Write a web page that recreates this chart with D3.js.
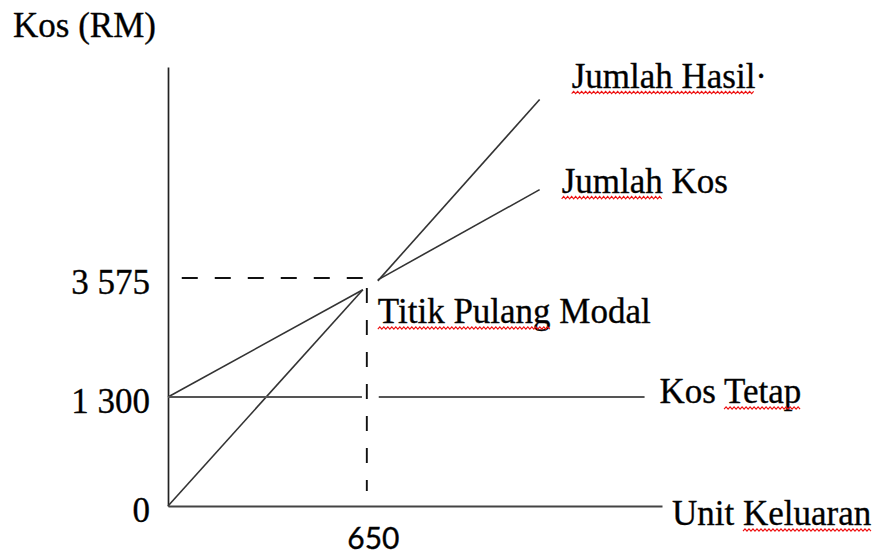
<!DOCTYPE html>
<html>
<head>
<meta charset="utf-8">
<script src="https://cdn.jsdelivr.net/npm/d3@7"></script>
<style>
  body { margin: 0; background: #fff; }
  svg text { font-family: 'Liberation Serif', 'Times New Roman', serif; font-size: 35px; fill: #000; stroke: #111; stroke-width: 0.35px; }
  svg .x-axis text { font-family: Lato, 'Noto Sans', sans-serif; font-size: 30px; }
</style>
</head>
<body>
<div id="chart"></div>
<script>
// values: units on x, RM on y
const yTicks = [0, 1300, 3575]
const xTicks = [650]
const unitMax = 1615
const costMax = 7600
const breakEven = [650, 3575]

// every line is drawn in two pieces, with a gap where the dashed guide crosses
const revenueLow = [[0, 0], [637, 3350]]
const revenueHigh = [[686, 3520], [1215, 6980]]
const costLow = [[0, 1300], [637, 3350]]
const costHigh = [[686, 3540], [1215, 5260]]
const fixedLow = [[0, 1300], [634, 1300]]
const fixedHigh = [[689, 1300], [1558, 1300]]

const guideH = [[45, 3575], [650, 3575]]
const guideV = [[650, 3385], [650, 180]]

const width = 879
const height = 558

const svg = d3.select('#chart')
  .append('svg')
  .attr('width', width)
  .attr('height', height)

const x = d3.scaleLinear()
  .domain([0, unitMax])
  .range([168, 662])

// the sketch is not to scale, so the y scale is piecewise
const y = d3.scaleLinear()
  .domain([0, 1300, 3575, costMax])
  .range([506, 397, 278, 67])

const fmt = d3.formatLocale({ decimal: '.', thousands: ' ', grouping: [3], currency: ['', ''] }).format(',')

const line = d3.line()
  .x(d => x(d[0]))
  .y(d => y(d[1]))

// y-axis
const yAxis = d3.axisLeft(y)
  .tickValues(yTicks)
  .tickSize(0)
  .tickPadding(18)
  .tickFormat(fmt)

const gy = svg.append('g')
  .attr('class', 'y-axis')
  .attr('transform', `translate(${x(0)}, 0)`)
  .call(yAxis)
  .attr('font-size', null)
  .attr('font-family', null)
gy.select('.domain').attr('stroke', '#222').attr('stroke-width', 1.7)
gy.selectAll('text').attr('dy', 15)

// x-axis
const xAxis = d3.axisBottom(x)
  .tickValues(xTicks)
  .tickSize(0)
  .tickPadding(22)
  .tickFormat(d3.format('d'))

const gx = svg.append('g')
  .attr('class', 'x-axis')
  .attr('transform', `translate(0, ${y(0)})`)
  .call(xAxis)
  .attr('font-size', null)
  .attr('font-family', null)
gx.select('.domain').attr('stroke', '#444').attr('stroke-width', 2.2)
gx.selectAll('text').attr('dx', 6)

// dashed guides to the break-even point
svg.append('g')
  .selectAll('path')
  .data([
    { pts: guideH, dash: '16 17' },
    { pts: guideV, dash: '15 17' }
  ])
  .join('path')
  .attr('d', d => line(d.pts))
  .attr('fill', 'none')
  .attr('stroke', '#111')
  .attr('stroke-width', 1.9)
  .attr('stroke-dasharray', d => d.dash)

// revenue, total cost and fixed cost
svg.append('g')
  .selectAll('path')
  .data([
    { pts: revenueLow, w: 1.6, c: '#333' },
    { pts: revenueHigh, w: 1.6, c: '#333' },
    { pts: costLow, w: 1.6, c: '#333' },
    { pts: costHigh, w: 1.6, c: '#333' },
    { pts: fixedLow, w: 2.1, c: '#555' },
    { pts: fixedHigh, w: 2.1, c: '#555' }
  ])
  .join('path')
  .attr('d', d => line(d.pts))
  .attr('fill', 'none')
  .attr('stroke', d => d.c)
  .attr('stroke-width', d => d.w)

// labels, with the spell-check squiggles from the source document
const squiggle = (x0, x1, yy) => {
  const pts = d3.range(x0, x1, 2).map((px, i) => [px, yy + (i % 2 ? -1.2 : 1.2)])
  return d3.line()(pts)
}

const labels = [
  { text: 'Kos (RM)', at: [0, costMax], dx: -155, dy: -30, marks: [] },
  { text: 'Jumlah Hasil·', at: revenueHigh[1], dx: 32, dy: -12, marks: [[0, 12]] },
  { text: 'Jumlah Kos', at: costHigh[1], dx: 22, dy: 3, marks: [[0, 6]] },
  { text: 'Titik Pulang Modal', at: breakEven, dx: 11, dy: 45, marks: [[0, 12]] },
  { text: 'Kos Tetap', at: fixedHigh[1], dx: 15, dy: 6, marks: [[4, 9]] },
  { text: 'Unit Keluaran', at: [unitMax, 0], dx: 10, dy: 19, marks: [[5, 13]] }
]

const gl = svg.append('g').attr('class', 'labels')

labels.forEach(l => {
  const lx = x(l.at[0]) + l.dx
  const ly = y(l.at[1]) + l.dy
  const t = gl.append('text')
    .attr('x', lx)
    .attr('y', ly)
    .text(l.text)
  l.marks.forEach(([a, b]) => {
    const node = t.node()
    const start = a > 0 ? node.getSubStringLength(0, a) : 0
    const len = node.getSubStringLength(a, b - a)
    gl.append('path')
      .attr('d', squiggle(lx + start, lx + start + len, ly + 5))
      .attr('fill', 'none')
      .attr('stroke', '#e11')
      .attr('stroke-width', 1.1)
  })
})
</script>
</body>
</html>
